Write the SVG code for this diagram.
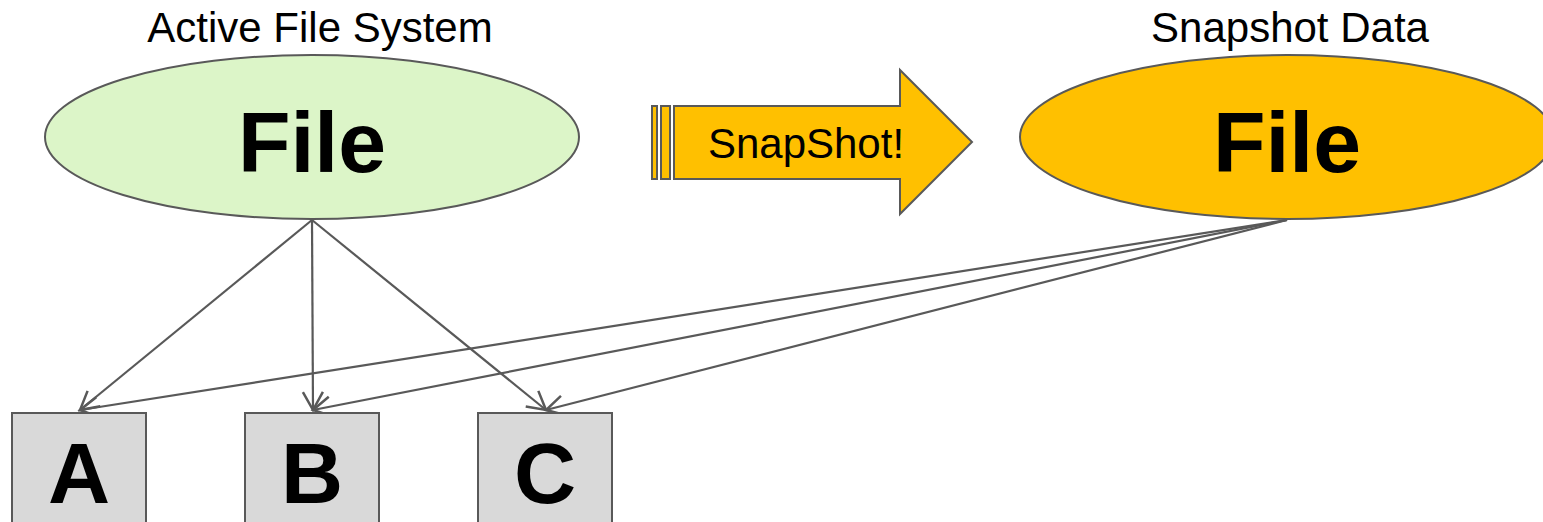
<svg xmlns="http://www.w3.org/2000/svg" width="1543" height="522" viewBox="0 0 1543 522">
<style>
.lbl{font-family:"Liberation Sans",Arial,sans-serif;font-size:42px;fill:#000;text-anchor:middle}
.big{font-family:"Liberation Sans",Arial,sans-serif;font-size:86px;font-weight:bold;fill:#000;text-anchor:middle}
.shape{stroke:#595959;stroke-width:2}
.conn{stroke:#595959;stroke-width:2.2;fill:none;marker-end:url(#arr)}
</style>
<defs>
<marker id="arr" markerUnits="userSpaceOnUse" markerWidth="26" markerHeight="26" refX="21" refY="13" orient="auto" viewBox="0 0 26 26">
<path d="M3,3 L21,13 L3,23" fill="none" stroke="#595959" stroke-width="2.5"/>
</marker>
</defs>
<rect width="1543" height="522" fill="#fff"/>
<g id="connectors">
<line class="conn" x1="312" y1="220" x2="80" y2="410"/>
<line class="conn" x1="312" y1="220" x2="313" y2="410"/>
<line class="conn" x1="312" y1="220" x2="546" y2="410"/>
<line class="conn" x1="1287" y1="220" x2="80" y2="410"/>
<line class="conn" x1="1287" y1="220" x2="313" y2="410"/>
<line class="conn" x1="1287" y1="220" x2="546" y2="410"/>
</g>
<g id="active">
<text class="lbl" x="320" y="42">Active File System</text>
<ellipse class="shape" cx="312" cy="137" rx="267" ry="82" fill="#dcf5c8"/>
<text class="big" x="312" y="172">File</text>
</g>
<g id="snapshot-arrow">
<rect class="shape" x="652" y="106" width="5" height="73" fill="#ffc000"/>
<rect class="shape" x="661" y="106" width="9" height="73" fill="#ffc000"/>
<path class="shape" d="M674,106 L900,106 L900,70 L972,142 L900,214 L900,179 L674,179 Z" fill="#ffc000"/>
<text class="lbl" x="806" y="158">SnapShot!</text>
</g>
<g id="snapshot">
<text class="lbl" x="1290" y="42">Snapshot Data</text>
<ellipse class="shape" cx="1287" cy="137" rx="267" ry="82" fill="#ffc000"/>
<text class="big" x="1287" y="172">File</text>
</g>
<g id="A">
<rect class="shape" x="12" y="413" width="134" height="130" fill="#d9d9d9"/>
<text class="big" x="79" y="503">A</text>
</g>
<g id="B">
<rect class="shape" x="245" y="413" width="134" height="130" fill="#d9d9d9"/>
<text class="big" x="312" y="503">B</text>
</g>
<g id="C">
<rect class="shape" x="478" y="413" width="134" height="130" fill="#d9d9d9"/>
<text class="big" x="545" y="503">C</text>
</g>
</svg>
